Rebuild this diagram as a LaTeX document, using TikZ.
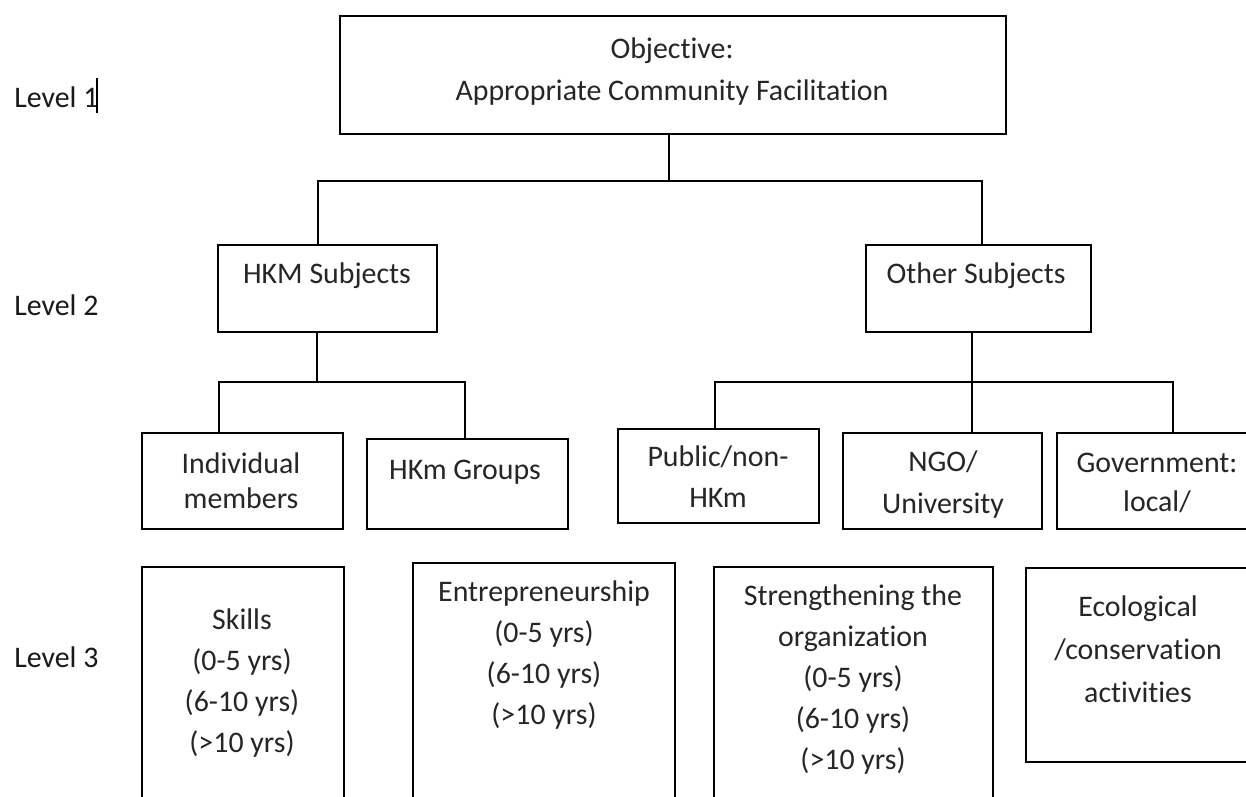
\documentclass[tikz,border=0pt]{standalone}
\usepackage{fontspec}
\setmainfont{Carlito}[Ligatures=NoCommon]

\tikzset{
  box/.style 2 args={draw, line width=1pt, minimum width=#1*0.02cm, minimum height=#2*0.02cm, inner sep=0pt},
  txt/.style={anchor=base, inner sep=0pt, text=black!85, font=\fontsize{17}{20}\selectfont},
  lvl/.style={anchor=base west, inner sep=0pt, text=black!90, font=\fontsize{17}{20}\selectfont},
  conn/.style={line width=1pt}
}

\begin{document}
\begin{tikzpicture}[x=0.02cm, y=-0.02cm]
\useasboundingbox (0,0) rectangle (1246,796);
\fill[white] (0,0) rectangle (1246,796);
\clip (0,0) rectangle (1246,796);

% levels
\node[lvl] (lv1) at (14,107) {Level 1};
\node[lvl] (lv2) at (14,315) {Level 2};
\node[lvl] (lv3) at (14,667) {Level 3};
\draw[line width=0.6pt] (97,78) -- (97,113);

% level 1
\node[box={666}{118}] (obj) at (673,75) {};
\node[txt] (obj-1) at (672,58) {Objective:};
\node[txt] (obj-2) at (672,100) {Appropriate Community Facilitation};

% level 2
\node[box={219}{87}] (hkm) at (327.5,288.5) {};
\node[txt] (hkm-1) at (327,283) {HKM Subjects};
\node[box={225}{87}] (oth) at (978.5,288.5) {};
\node[txt] (oth-1) at (976,283) {Other Subjects};

\node[box={201}{96}] (ind) at (242.5,481) {};
\node[txt] (ind-1) at (241,473) {Individual};
\node[txt] (ind-2) at (241,508) {members};
\node[box={201}{90}] (grp) at (467.5,484) {};
\node[txt] (grp-1) at (465,479) {HKm Groups};
\node[box={201}{94}] (pub) at (718.5,476) {};
\node[txt] (pub-1) at (718,466) {Public/non-};
\node[txt] (pub-2) at (718,507) {HKm};
\node[box={199}{96}] (ngo) at (942.5,481) {};
\node[txt] (ngo-1) at (943,471) {NGO/};
\node[txt] (ngo-2) at (943,513) {University};
\node[box={200}{96}] (gov) at (1157,481) {};
\node[txt] (gov-1) at (1157,472) {Government:};
\node[txt] (gov-2) at (1157,511) {local/};

% level 3
\node[box={202}{263}] (skl) at (243,698.5) {};
\foreach \t [count=\i from 0] in {Skills,(0-5 yrs),(6-10 yrs),(>10 yrs)}
  \node[txt] (skl-\i) at (242,629+41*\i) {\t};
\node[box={262}{267}] (ent) at (544,696.5) {};
\foreach \t [count=\i from 0] in {Entrepreneurship,(0-5 yrs),(6-10 yrs),(>10 yrs)}
  \node[txt] (ent-\i) at (544,601+41*\i) {\t};
\node[box={279}{263}] (str) at (853.5,698.5) {};
\foreach \t [count=\i from 0] in {Strengthening the,organization,(0-5 yrs),(6-10 yrs),(>10 yrs)}
  \node[txt] (str-\i) at (853,605+41*\i) {\t};
\node[box={224}{194}] (eco) at (1138,665) {};
\foreach \t [count=\i from 0] in {Ecological,/conservation,activities}
  \node[txt] (eco-\i) at (1138,616+43*\i) {\t};

% connectors
\coordinate (b1) at (669,181);
\coordinate (b1l) at (318,181);
\coordinate (b1r) at (982,181);
\draw[conn] (obj.south -| b1) -- (b1);
\draw[conn] (hkm.north -| b1l) -- (b1l) -- (b1r) -- (oth.north -| b1r);

\coordinate (b2) at (317,382);
\coordinate (b2l) at (219,382);
\coordinate (b2r) at (465,382);
\draw[conn] (hkm.south -| b2) -- (b2);
\draw[conn] (ind.north -| b2l) -- (b2l) -- (b2r) -- (grp.north -| b2r);

\coordinate (b3) at (972,382);
\coordinate (b3l) at (715,382);
\coordinate (b3r) at (1173,382);
\draw[conn] (oth.south -| b3) -- (b3);
\draw[conn] (pub.north -| b3l) -- (b3l) -- (b3r) -- (gov.north -| b3r);
\draw[conn] (ngo.north -| b3) -- (b3);
\end{tikzpicture}
\end{document}
